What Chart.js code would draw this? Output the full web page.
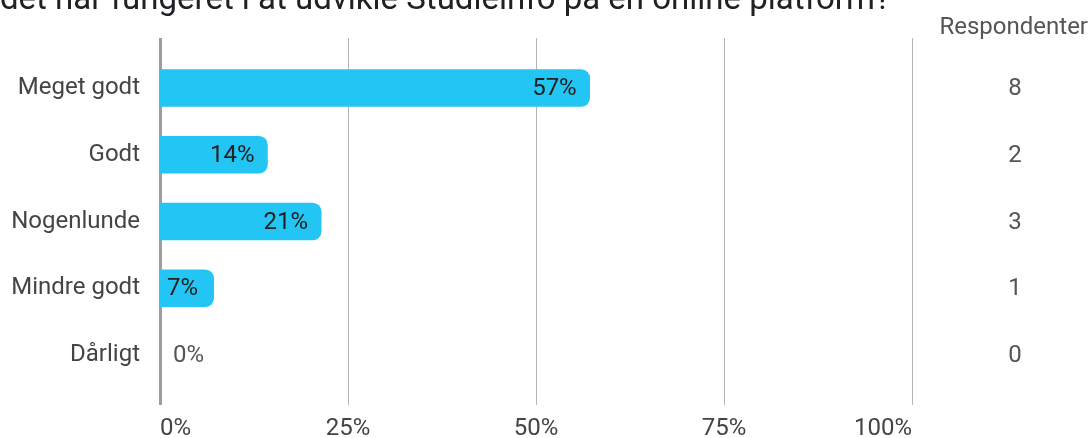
<!DOCTYPE html>
<html>
<head>
<meta charset="utf-8">
<script src="https://cdn.jsdelivr.net/npm/chart.js@4.4.0/dist/chart.umd.min.js"></script>
<style>
  html, body { margin: 0; padding: 0; background: #fff; }
  #wrap { position: relative; width: 1090px; height: 438px; overflow: hidden; }
</style>
</head>
<body>
<div id="wrap"><canvas id="chartId" width="1090" height="438"></canvas></div>
<script>
const titleText = "det har fungeret i at udvikle Studieinfo på en online platform?";
const categories = ["Meget godt", "Godt", "Nogenlunde", "Mindre godt", "Dårligt"];
const percents = [57.14, 14.29, 21.43, 7.14, 0];
const respondents = [8, 2, 3, 1, 0];
const tickValues = [0, 25, 50, 75, 100];

const FONT = "Roboto, 'Noto Sans', sans-serif";

// grid lines run past the bar area, so draw them here
const gridPlugin = {
    id: "grid",
    beforeDatasetsDraw(chart) {
        const ctx = chart.ctx;
        const xs = chart.scales.x;
        ctx.save();
        tickValues.forEach(function(v) {
            const px = Math.round(xs.getPixelForValue(v));
            ctx.beginPath();
            if (v === 0) {
                ctx.strokeStyle = "#9e9e9e";
                ctx.lineWidth = 3;
            } else {
                ctx.strokeStyle = "#b5b5b5";
                ctx.lineWidth = 1;
            }
            ctx.moveTo(px + 0.5, 38);
            ctx.lineTo(px + 0.5, 405);
            ctx.stroke();
        });
        ctx.restore();
    }
};

const textPlugin = {
    id: "texts",
    afterDatasetsDraw(chart) {
        const ctx = chart.ctx;
        const ys = chart.scales.y;
        const meta = chart.getDatasetMeta(0);
        ctx.save();
        ctx.font = "24px " + FONT;
        ctx.textBaseline = "middle";
        meta.data.forEach(function(bar, i) {
            const txt = Math.round(percents[i]) + "%";
            const w = ctx.measureText(txt).width;
            if (bar.x - bar.base > w + 24) {
                ctx.fillStyle = "#212121";
                ctx.textAlign = "right";
                ctx.fillText(txt, bar.x - 13, bar.y + 1);
            } else if (percents[i] > 0) {
                ctx.fillStyle = "#212121";
                ctx.textAlign = "left";
                ctx.fillText(txt, bar.base + 7, bar.y + 1);
            } else {
                ctx.fillStyle = "#555555";
                ctx.textAlign = "left";
                ctx.fillText(txt, bar.base + 13, bar.y + 1);
            }
        });
        // respondent counts on the right
        ctx.fillStyle = "#555555";
        ctx.textAlign = "center";
        respondents.forEach(function(n, i) {
            ctx.fillText(String(n), 1015, ys.getPixelForValue(i) + 1);
        });
        ctx.textAlign = "right";
        ctx.fillText("Respondenter", 1088, 28);
        // clipped title at the very top
        ctx.font = "33px " + FONT;
        ctx.fillStyle = "#202124";
        ctx.textAlign = "left";
        ctx.textBaseline = "alphabetic";
        ctx.fillText(titleText, 0, 9);
        ctx.restore();
    }
};

const chrt = document.getElementById("chartId").getContext("2d");
const chartId = new Chart(chrt, {
    type: "bar",
    data: {
        labels: categories,
        datasets: [{
            data: percents,
            backgroundColor: function(c) {
                return percents[c.dataIndex] > 0 ? "#22c5f3" : "rgba(0,0,0,0)";
            },
            borderRadius: { topLeft: 0, bottomLeft: 0, topRight: 9, bottomRight: 9 },
            borderSkipped: false,
            barThickness: 37
        }]
    },
    options: {
        indexAxis: "y",
        responsive: false,
        animation: false,
        layout: { padding: { top: 54.6, right: 178, left: 0, bottom: 0 } },
        plugins: { legend: { display: false }, tooltip: { enabled: false } },
        scales: {
            x: {
                min: 0,
                max: 100,
                afterBuildTicks(scale) {
                    scale.ticks = tickValues.map(function(v) { return { value: v }; });
                },
                grid: { display: false, drawTicks: false },
                border: { display: false },
                ticks: {
                    align: "inner",
                    padding: 26,
                    color: "#444444",
                    font: { family: FONT, size: 24 },
                    callback: function(v) { return v + "%"; }
                },
                afterFit(scale) { scale.height = 49.6; }
            },
            y: {
                grid: { display: false, drawTicks: false },
                border: { display: false },
                ticks: {
                    padding: 20,
                    color: "#444444",
                    font: { family: FONT, size: 24 }
                },
                afterFit(scale) { scale.width = 160; }
            }
        }
    },
    plugins: [gridPlugin, textPlugin]
});
</script>
</body>
</html>
